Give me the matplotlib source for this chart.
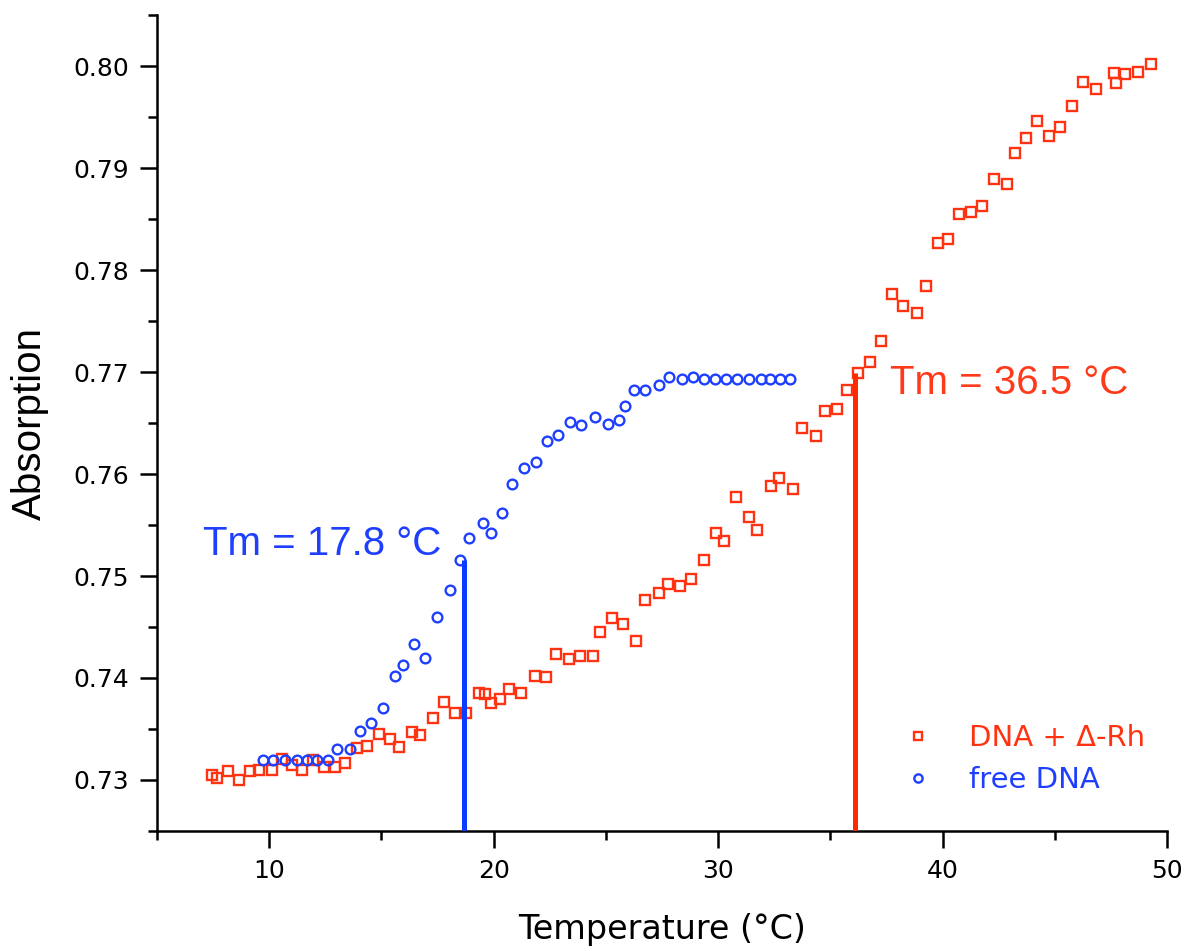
import matplotlib
matplotlib.use("Agg")
import matplotlib.pyplot as plt
from matplotlib.ticker import MultipleLocator, FormatStrFormatter

# ---- data ----
red_x = [7.44, 7.66, 8.15, 8.67, 9.15, 9.56, 10.11, 10.56, 11.00, 11.45, 11.97, 12.42,
         12.94, 13.38, 13.90, 14.35, 14.91, 15.36, 15.76, 16.35, 16.73, 17.29, 17.77,
         18.26, 18.78, 19.33, 19.62, 19.88, 20.26, 20.67, 21.23, 21.82, 22.34, 22.79,
         23.37, 23.86, 24.42, 24.75, 25.27, 25.75, 26.34, 26.76, 27.35, 27.75, 28.29,
         28.77, 29.36, 29.91, 30.25, 30.81, 31.36, 31.73, 32.36, 32.73, 33.32, 33.74,
         34.34, 34.76, 35.28, 35.75, 36.24, 36.76, 37.24, 37.76, 38.25, 38.85, 39.26,
         39.79, 40.26, 40.73, 41.28, 41.74, 42.29, 42.85, 43.22, 43.74, 44.22, 44.74,
         45.23, 45.78, 46.26, 46.82, 47.64, 47.71, 48.13, 48.72, 49.27]
red_y = [0.7305, 0.7302, 0.7309, 0.7300, 0.7309, 0.7310, 0.7310, 0.7321, 0.7315, 0.7310,
         0.7320, 0.7313, 0.7313, 0.7317, 0.7331, 0.7333, 0.7345, 0.7340, 0.7332, 0.7347,
         0.7344, 0.7361, 0.7376, 0.7366, 0.7366, 0.7385, 0.7384, 0.7375, 0.7379, 0.7389,
         0.7385, 0.7402, 0.7401, 0.7424, 0.7419, 0.7422, 0.7422, 0.7445, 0.7459, 0.7453,
         0.7436, 0.7476, 0.7483, 0.7492, 0.7490, 0.7497, 0.7516, 0.7542, 0.7534, 0.7577,
         0.7558, 0.7545, 0.7588, 0.7596, 0.7585, 0.7645, 0.7637, 0.7662, 0.7664, 0.7682,
         0.7699, 0.7710, 0.7730, 0.7776, 0.7765, 0.7758, 0.7784, 0.7826, 0.7830, 0.7855,
         0.7857, 0.7863, 0.7889, 0.7884, 0.7915, 0.7929, 0.7946, 0.7931, 0.7940, 0.7961,
         0.7984, 0.7977, 0.7993, 0.7983, 0.7992, 0.7994, 0.8002]

blue_x = [9.71, 10.15, 10.71, 11.23, 11.67, 12.12, 12.64, 13.01, 13.61, 14.05, 14.53,
          15.09, 15.61, 15.98, 16.43, 16.95, 17.48, 18.06, 18.48, 18.88, 19.52, 19.88,
          20.37, 20.82, 21.36, 21.90, 22.37, 22.85, 23.41, 23.90, 24.50, 25.08, 25.58,
          25.87, 26.24, 26.76, 27.35, 27.83, 28.39, 28.88, 29.36, 29.85, 30.35, 30.86,
          31.36, 31.91, 32.33, 32.77, 33.22]
blue_y = [0.7320, 0.7320, 0.7320, 0.7320, 0.7320, 0.7320, 0.7320, 0.7330, 0.7330, 0.7348,
          0.7356, 0.7371, 0.7402, 0.7413, 0.7433, 0.7420, 0.7460, 0.7486, 0.7516, 0.7537,
          0.7552, 0.7542, 0.7562, 0.7590, 0.7606, 0.7612, 0.7632, 0.7638, 0.7651, 0.7648,
          0.7656, 0.7649, 0.7653, 0.7667, 0.7682, 0.7682, 0.7687, 0.7695, 0.7693, 0.7695,
          0.7693, 0.7693, 0.7693, 0.7693, 0.7693, 0.7693, 0.7693, 0.7693, 0.7693]

tm_free = 18.7        # position of blue marker line
tm_free_top = 0.7516
tm_rh = 36.1          # position of red marker line
tm_rh_top = 0.7699

label_red = "DNA + Δ-Rh"
label_blue = "free DNA"
text_free = "Tm = 17.8 °C"
text_rh = "Tm = 36.5 °C"

RED = "#ff3311"
BLUE = "#1f3fff"

fig = plt.figure(figsize=(11.85, 9.51), dpi=100)
ax = fig.add_axes([157/1185, 1 - 831/951, (1167 - 157)/1185, (831 - 15)/951])

ax.plot(red_x, red_y, linestyle="none", marker="s", markersize=7.2,
        markerfacecolor="none", markeredgecolor=RED, markeredgewidth=1.7, label=label_red)
ax.plot(blue_x, blue_y, linestyle="none", marker="o", markersize=7.0,
        markerfacecolor="none", markeredgecolor=BLUE, markeredgewidth=1.7, label=label_blue)

ax.vlines(tm_free, 0.725, tm_free_top, color="#0a3cff", linewidth=3.6, zorder=3)
ax.vlines(tm_rh, 0.725, tm_rh_top, color="#ff2a00", linewidth=3.6, zorder=3)

ax.text(7.05, 0.7531, text_free, color=BLUE, fontsize=29, family="Liberation Sans",
        ha="left", va="center")
ax.text(37.65, 0.7689, text_rh, color="#ff3a1a", fontsize=29, family="Liberation Sans",
        ha="left", va="center")

ax.set_xlim(5, 50)
ax.set_ylim(0.725, 0.805)
ax.xaxis.set_major_locator(MultipleLocator(10))
ax.xaxis.set_minor_locator(MultipleLocator(5))
ax.yaxis.set_major_locator(MultipleLocator(0.01))
ax.yaxis.set_minor_locator(MultipleLocator(0.005))
ax.yaxis.set_major_formatter(FormatStrFormatter("%.2f"))

for s in ["top", "right"]:
    ax.spines[s].set_visible(False)
for s in ["left", "bottom"]:
    ax.spines[s].set_linewidth(1.8)

ax.tick_params(which="major", direction="out", length=12, width=1.8, labelsize=18, pad=8)
ax.tick_params(which="minor", direction="out", length=6.5, width=1.8)
for lab in ax.get_xticklabels() + ax.get_yticklabels():
    lab.set_family("DejaVu Sans")

ax.set_xlabel("Temperature (°C)", fontsize=24, family="DejaVu Sans", labelpad=22)
ax.set_ylabel("Absorption", fontsize=29, family="Liberation Sans", labelpad=18)

leg = ax.legend(loc="center left", bbox_to_anchor=(0.713, 0.088), borderaxespad=0,
                frameon=False, fontsize=21, handlelength=2.0, handletextpad=0.75,
                labelspacing=0.5, labelcolor="markeredgecolor", markerscale=0.85)
for t in leg.get_texts():
    t.set_family("DejaVu Sans")

fig.savefig("out.png", dpi=100)
